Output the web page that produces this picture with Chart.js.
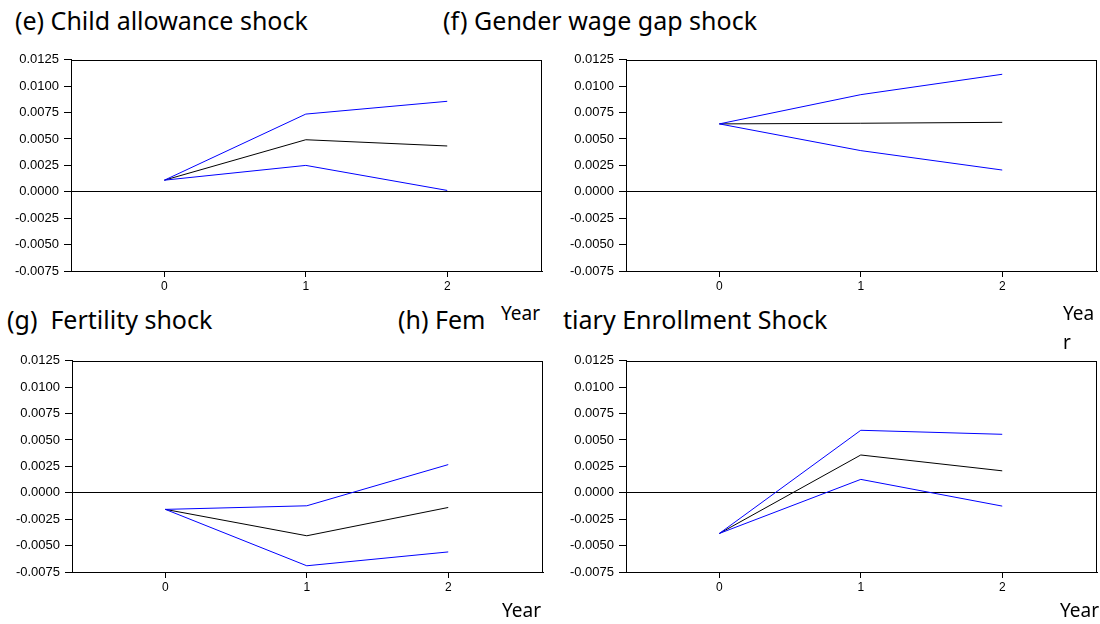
<!DOCTYPE html>
<html>
<head>
<meta charset="utf-8">
<script src="https://cdn.jsdelivr.net/npm/chart.js@4.4.1/dist/chart.umd.min.js"></script>
<style>
    body {
        margin: 0;
        width: 1100px;
        height: 624px;
        position: relative;
        overflow: hidden;
        background: #fff;
        font-family: "Noto Sans", sans-serif;
        color: #000;
    }
    .title {
        position: absolute;
        font-size: 25px;
        line-height: 25px;
        white-space: pre;
    }
    .year {
        position: absolute;
        font-size: 19px;
        line-height: 19px;
        white-space: nowrap;
    }
    canvas { position: absolute; }
</style>
</head>
<body>
<div class="title" style="left:15px;top:8px">(e) Child allowance shock</div>
<div class="title" style="left:443px;top:8px">(f) Gender wage gap shock</div>
<div class="title" style="left:7px;top:307px">(g)  Fertility shock</div>
<div class="title" style="left:398px;top:307px">(h) Female Tertiary Enrollment Shock</div>

<canvas id="chart-e" width="545" height="250" style="left:0;top:47px"></canvas>
<canvas id="chart-f" width="545" height="250" style="left:555px;top:47px"></canvas>
<canvas id="chart-g" width="545" height="250" style="left:1px;top:348px"></canvas>
<canvas id="chart-h" width="545" height="250" style="left:555px;top:348px"></canvas>

<!-- x axis labels, placed like the text boxes of the original -->
<div class="year" style="left:486px;top:300px;width:77px;height:40px;background:#fff;padding:4px 0 0 15px;box-sizing:border-box">Year</div>
<div class="year" style="left:1063px;top:299px;width:35px;line-height:29px;white-space:normal;word-break:break-all">Year</div>
<div class="year" style="left:502px;top:601px">Year</div>
<div class="year" style="left:1060px;top:601px">Year</div>

<script>
const years = [0, 1, 2];
const xTicks = [0, 1, 2];
const yMin = -0.0075;
const yMax = 0.0125;
const yStep = 0.0025;

// (e) Child allowance shock
const childUpper = [0.0011, 0.00736, 0.00857];
const childMid = [0.0011, 0.00493, 0.00434];
const childLower = [0.0011, 0.0025, 0.00013];

// (f) Gender wage gap shock
const wageUpper = [0.00643, 0.0092, 0.01113];
const wageMid = [0.00643, 0.00649, 0.00658];
const wageLower = [0.00643, 0.0039, 0.00206];

// (g) Fertility shock
const fertUpper = [-0.00157, -0.00123, 0.00267];
const fertMid = [-0.00157, -0.00407, -0.00139];
const fertLower = [-0.00157, -0.00691, -0.0056];

// (h) Female tertiary enrollment shock
const enrolUpper = [-0.00385, 0.00592, 0.00554];
const enrolMid = [-0.00385, 0.00358, 0.00208];
const enrolLower = [-0.00385, 0.00127, -0.00126];

const boxBorder = {
    id: 'boxBorder',
    afterDraw(chart) {
        const { ctx, chartArea } = chart;
        ctx.save();
        ctx.strokeStyle = '#000';
        ctx.lineWidth = 1;
        ctx.strokeRect(Math.round(chartArea.left) + 0.5, Math.round(chartArea.top) + 0.5,
            Math.round(chartArea.right - chartArea.left) - 1, Math.round(chartArea.bottom - chartArea.top));
        ctx.restore();
    }
};

function toPoints(values) {
    return years.map((x, i) => ({ x: x, y: values[i] }));
}

function line(values, color) {
    return {
        data: toPoints(values),
        borderColor: color,
        borderWidth: 1,
        pointRadius: 0,
        tension: 0,
        fill: false
    };
}

function renderPanel(id, upper, mid, lower) {
    const ctx = document.getElementById(id).getContext('2d');
    new Chart(ctx, {
        type: 'line',
        data: {
            datasets: [
                line(upper, '#0000ff'),
                line(lower, '#0000ff'),
                line(mid, '#000000')
            ]
        },
        options: {
            responsive: false,
            animation: false,
            layout: { padding: { top: 10, right: 3, left: 0, bottom: 0 } },
            plugins: {
                legend: { display: false },
                tooltip: { enabled: false }
            },
            scales: {
                x: {
                    type: 'linear',
                    min: -0.66,
                    max: 2.67,
                    afterBuildTicks: scale => {
                        scale.ticks = xTicks.map(v => ({ value: v }));
                    },
                    afterFit: scale => { scale.height = 26; },
                    grid: {
                        drawOnChartArea: false,
                        drawTicks: true,
                        tickLength: 6,
                        tickColor: '#000'
                    },
                    border: { display: true, color: '#000', width: 1 },
                    ticks: {
                        padding: 2,
                        color: '#000',
                        font: { family: 'Liberation Sans', size: 12 },
                        callback: v => String(v)
                    }
                },
                y: {
                    min: yMin,
                    max: yMax,
                    afterFit: scale => { scale.width = 71; },
                    grid: {
                        color: c => (c.tick && Math.abs(c.tick.value) < 1e-9) ? '#000' : 'rgba(0,0,0,0)',
                        tickColor: '#000',
                        tickLength: 7,
                        lineWidth: 1
                    },
                    border: { display: true, color: '#000', width: 1 },
                    ticks: {
                        stepSize: yStep,
                        padding: 5,
                        color: '#000',
                        font: { family: 'Liberation Sans', size: 13 },
                        callback: v => Number(v).toFixed(4)
                    }
                }
            }
        },
        plugins: [boxBorder]
    });
}

renderPanel('chart-e', childUpper, childMid, childLower);
renderPanel('chart-f', wageUpper, wageMid, wageLower);
renderPanel('chart-g', fertUpper, fertMid, fertLower);
renderPanel('chart-h', enrolUpper, enrolMid, enrolLower);
</script>
</body>
</html>
